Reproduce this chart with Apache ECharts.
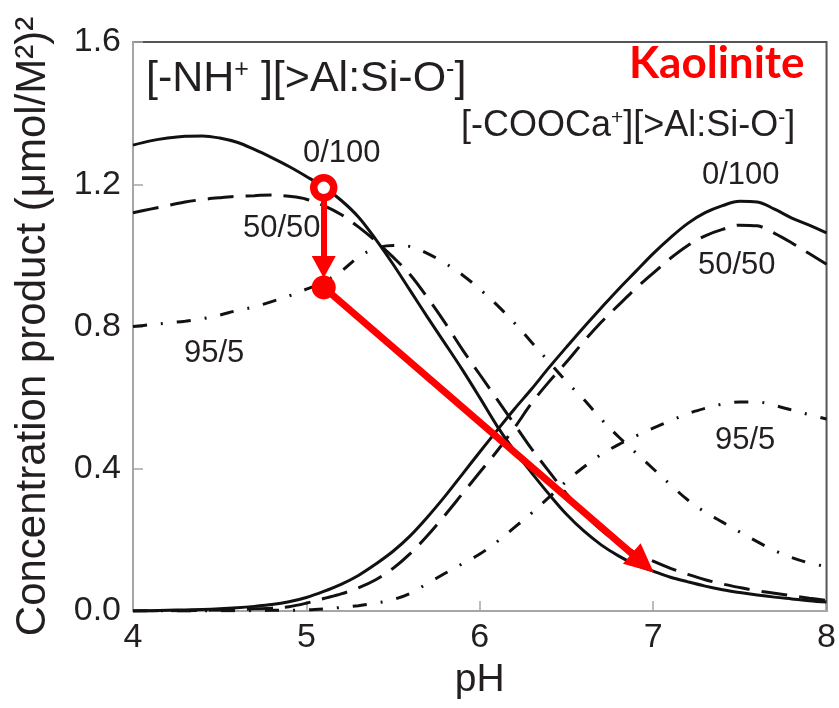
<!DOCTYPE html>
<html>
<head>
<meta charset="utf-8">
<script src="https://cdn.jsdelivr.net/npm/echarts@6/dist/echarts.min.js"></script>
<style>html,body{margin:0;padding:0;background:#fff}#c{width:839px;height:708px}</style>
</head>
<body>
<div id="c"></div>
<script>
// ---- data ----
const pH = [4.0,4.1,4.2,4.3,4.4,4.5,4.6,4.7,4.8,4.9,
            5.0,5.1,5.2,5.3,5.4,5.5,5.6,5.7,5.8,5.9,
            6.0,6.1,6.2,6.3,6.4,6.5,6.6,6.7,6.8,6.9,
            7.0,7.1,7.2,7.3,7.4,7.5,7.6,7.7,7.8,7.9,8.0];

// [-NH+][>Al:Si-O-]
const nh_0_100 = [1.310,1.322,1.330,1.335,1.336,1.330,1.318,1.298,1.275,1.250,
                  1.222,1.192,1.155,1.108,1.045,0.975,0.900,0.825,0.752,0.678,
                  0.600,0.520,0.450,0.388,0.328,0.272,0.225,0.186,0.155,0.130,
                  0.112,0.095,0.082,0.070,0.060,0.052,0.045,0.039,0.034,0.029,0.025];
const nh_50_50 = [1.120,1.130,1.140,1.150,1.157,1.162,1.166,1.168,1.170,1.166,
                  1.158,1.140,1.115,1.080,1.040,0.995,0.945,0.880,0.810,0.735,
                  0.665,0.595,0.525,0.455,0.392,0.330,0.275,0.228,0.192,0.163,
                  0.140,0.120,0.103,0.088,0.076,0.066,0.057,0.050,0.043,0.036,0.030];
const nh_95_5 = [0.800,0.805,0.810,0.815,0.822,0.832,0.845,0.855,0.870,0.886,
                 0.905,0.925,0.955,0.995,1.020,1.028,1.025,1.005,0.978,0.945,
                 0.905,0.860,0.810,0.755,0.700,0.645,0.595,0.540,0.490,0.445,
                 0.400,0.355,0.312,0.278,0.250,0.222,0.195,0.170,0.150,0.135,0.125];

// [-COOCa+][>Al:Si-O-]
const cooca_0_100 = [0.000,0.001,0.002,0.003,0.004,0.006,0.009,0.013,0.018,0.026,
                     0.038,0.055,0.075,0.100,0.132,0.168,0.212,0.265,0.323,0.385,
                     0.447,0.508,0.568,0.625,0.685,0.742,0.798,0.852,0.905,0.955,
                     1.005,1.050,1.090,1.120,1.140,1.152,1.150,1.130,1.105,1.085,1.063];
const cooca_50_50 = [0.000,0.000,0.001,0.001,0.002,0.003,0.004,0.006,0.008,0.012,
                     0.022,0.035,0.048,0.065,0.088,0.120,0.162,0.213,0.270,0.330,
                     0.390,0.450,0.515,0.585,0.645,0.700,0.758,0.812,0.860,0.907,
                     0.950,0.992,1.028,1.055,1.073,1.085,1.083,1.062,1.035,1.005,0.975];
const cooca_95_5 = [0.000,0.000,0.000,0.000,0.000,0.001,0.001,0.001,0.002,0.002,
                    0.003,0.006,0.010,0.015,0.022,0.032,0.050,0.078,0.106,0.133,
                    0.160,0.195,0.235,0.276,0.320,0.365,0.405,0.440,0.468,0.492,
                    0.514,0.535,0.555,0.570,0.582,0.588,0.588,0.578,0.565,0.552,0.540];

// red annotation points (pH, value)
const arrowTop = [5.1, 1.19];
const arrowTopTip = [5.1, 0.967];
const arrowMid = [5.1, 0.91];
const arrowMainTip = [6.94, 0.135];

const xTicks = [4, 5, 6, 7, 8];
const yTicks = [0.0, 0.4, 0.8, 1.2, 1.6];

// ---- chart ----
const FONT = 'Liberation Sans';
const TXT = '#231f20';
const RED = '#ff0000';
const pairs = ys => pH.map((x, i) => [x, ys[i]]);

const solid = { color: '#111', width: 3, type: 'solid' };
const dashed = { color: '#111', width: 3, type: [26, 12], cap: 'butt' };
const dashdot = { color: '#111', width: 3, type: [14, 14, 2, 14], cap: 'butt' };

function curve(name, ys, style) {
  return { name, type: 'line', data: pairs(ys), showSymbol: false, symbol: 'none',
           smooth: 0.35, lineStyle: style, silent: true, z: 3 };
}

const chart = echarts.init(document.getElementById('c'));
chart.setOption({
  animation: false,
  backgroundColor: '#fff',
  grid: { left: 133, right: 10, top: 42, bottom: 97, show: true,
          borderColor: '#555', borderWidth: 2, containLabel: false },
  xAxis: {
    type: 'value', min: xTicks[0], max: xTicks[xTicks.length - 1], interval: 1,
    name: 'pH', nameLocation: 'middle', nameGap: 50,
    nameTextStyle: { fontFamily: FONT, fontSize: 39, color: TXT },
    axisLine: { show: true, onZero: false, lineStyle: { color: '#a6a6a6', width: 2 } },
    axisTick: { show: true, inside: true, length: 10, lineStyle: { color: '#a6a6a6', width: 1.5 } },
    axisLabel: { fontFamily: FONT, fontSize: 34, color: TXT, margin: 10 },
    splitLine: { show: false }
  },
  yAxis: {
    type: 'value', min: yTicks[0], max: yTicks[yTicks.length - 1], interval: 0.4,
    name: 'Concentration product (μmol/M²)²', nameLocation: 'middle', nameGap: 79, nameRotate: 90,
    nameTextStyle: { fontFamily: FONT, fontSize: 42, color: TXT },
    axisLine: { show: true, onZero: false, lineStyle: { color: '#a6a6a6', width: 2 } },
    axisTick: { show: true, inside: true, length: 10, lineStyle: { color: '#a6a6a6', width: 1.5 } },
    axisLabel: { fontFamily: FONT, fontSize: 34, color: TXT, margin: 12,
                 formatter: v => v.toFixed(1) },
    splitLine: { show: false }
  },
  series: [
    curve('NH 0/100', nh_0_100, solid),
    curve('NH 50/50', nh_50_50, dashed),
    curve('NH 95/5', nh_95_5, dashdot),
    curve('COOCa 0/100', cooca_0_100, solid),
    curve('COOCa 50/50', cooca_50_50, dashed),
    curve('COOCa 95/5', cooca_95_5, dashdot),
    {
      name: 'arrows', type: 'scatter', data: [arrowMid], symbol: 'circle', symbolSize: 24,
      itemStyle: { color: RED, opacity: 1 }, z: 12, silent: true,
      markLine: {
        silent: true, animation: false, symbol: ['none', 'none'],
        label: { show: false },
        data: [
          [ { coord: arrowTop, symbol: 'none', lineStyle: { color: RED, width: 6, type: 'solid' } },
            { coord: arrowTopTip, symbol: 'triangle', symbolSize: [24, 22] } ],
          [ { coord: arrowMid, symbol: 'none', lineStyle: { color: RED, width: 7, type: 'solid' } },
            { coord: arrowMainTip, symbol: 'triangle', symbolSize: [27, 29] } ]
        ],
        itemStyle: { color: RED },
        lineStyle: { color: RED, type: 'solid', opacity: 1 }
      }
    },
    {
      name: 'start', type: 'scatter', data: [arrowTop], symbol: 'circle', symbolSize: 20,
      itemStyle: { color: '#fff', borderColor: RED, borderWidth: 7.5, opacity: 1 }, z: 13, silent: true
    }
  ],
  graphic: [
    { type: 'text', left: 146, top: 58, z: 20, silent: true,
      style: { text: '[-NH{sup|+} ][>Al:Si-O{sup|-}]', font: '43px "Liberation Sans"', fill: TXT,
               rich: { sup: { fontSize: 25, fontFamily: FONT, verticalAlign: 'top', fill: TXT } } } },
    { type: 'text', left: 461, top: 108, z: 20, silent: true,
      style: { text: '[-COOCa{sup|+}][>Al:Si-O{sup|-}]', font: '36px "Liberation Sans"', fill: TXT,
               rich: { sup: { fontSize: 21, fontFamily: FONT, verticalAlign: 'top', fill: TXT } } } },
    { type: 'text', left: 629, top: 42, z: 20, silent: true,
      style: { text: 'Kaolinite', font: 'bold 44px Lato', fill: RED } },
    { type: 'text', left: 303, top: 138, z: 20, silent: true,
      style: { text: '0/100', font: '31px "Liberation Sans"', fill: TXT } },
    { type: 'text', left: 243, top: 213, z: 20, silent: true,
      style: { text: '50/50', font: '31px "Liberation Sans"', fill: TXT } },
    { type: 'text', left: 184, top: 338, z: 20, silent: true,
      style: { text: '95/5', font: '31px "Liberation Sans"', fill: TXT } },
    { type: 'text', left: 702, top: 160, z: 20, silent: true,
      style: { text: '0/100', font: '31px "Liberation Sans"', fill: TXT } },
    { type: 'text', left: 698, top: 250, z: 20, silent: true,
      style: { text: '50/50', font: '31px "Liberation Sans"', fill: TXT } },
    { type: 'text', left: 715, top: 425, z: 20, silent: true,
      style: { text: '95/5', font: '31px "Liberation Sans"', fill: TXT } }
  ]
});
</script>
</body>
</html>
